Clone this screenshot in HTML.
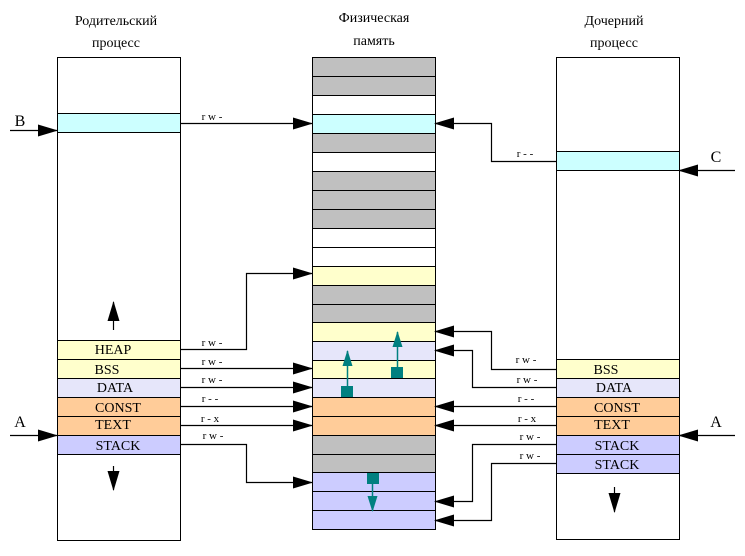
<!DOCTYPE html>
<html><head><meta charset="utf-8"><style>body{margin:0;background:#fff}svg{display:block}</style></head><body>
<svg width="745" height="556" xmlns="http://www.w3.org/2000/svg" font-family="Liberation Serif, serif">
<defs>
<marker id="a" markerWidth="20" markerHeight="12" refX="19" refY="6" orient="auto" markerUnits="userSpaceOnUse"><path d="M0,0 L20,6 L0,12 Z" fill="#000"/></marker>
<marker id="t" markerWidth="16" markerHeight="12" refX="15" refY="6" orient="auto" markerUnits="userSpaceOnUse"><path d="M0,1 L16,6 L0,11 Z" fill="#008080"/></marker>
</defs>
<g font-size="14" text-anchor="middle">
<text x="116" y="25">Родительский</text><text x="116" y="47">процесс</text>
<text x="374" y="22">Физическая</text><text x="374" y="45">память</text>
<text x="614" y="25">Дочерний</text><text x="614" y="47">процесс</text>
</g>
<g stroke="#000" stroke-width="1">
<rect x="312.5" y="57.5" width="123" height="19" fill="#c0c0c0"/>
<rect x="312.5" y="76.5" width="123" height="19" fill="#c0c0c0"/>
<rect x="312.5" y="95.5" width="123" height="19" fill="#fff"/>
<rect x="312.5" y="114.5" width="123" height="19" fill="#ccffff"/>
<rect x="312.5" y="133.5" width="123" height="19" fill="#c0c0c0"/>
<rect x="312.5" y="152.5" width="123" height="19" fill="#fff"/>
<rect x="312.5" y="171.5" width="123" height="19" fill="#c0c0c0"/>
<rect x="312.5" y="190.5" width="123" height="19" fill="#c0c0c0"/>
<rect x="312.5" y="209.5" width="123" height="19" fill="#c0c0c0"/>
<rect x="312.5" y="228.5" width="123" height="19" fill="#fff"/>
<rect x="312.5" y="247.5" width="123" height="19" fill="#fff"/>
<rect x="312.5" y="266.5" width="123" height="19" fill="#ffffcc"/>
<rect x="312.5" y="285.5" width="123" height="19" fill="#c0c0c0"/>
<rect x="312.5" y="304.5" width="123" height="18" fill="#c0c0c0"/>
<rect x="312.5" y="322.5" width="123" height="19" fill="#ffffcc"/>
<rect x="312.5" y="341.5" width="123" height="19" fill="#e6e6fa"/>
<rect x="312.5" y="360.5" width="123" height="18" fill="#ffffcc"/>
<rect x="312.5" y="378.5" width="123" height="19" fill="#e6e6fa"/>
<rect x="312.5" y="397.5" width="123" height="19" fill="#ffcc99"/>
<rect x="312.5" y="416.5" width="123" height="19" fill="#ffcc99"/>
<rect x="312.5" y="435.5" width="123" height="19" fill="#c0c0c0"/>
<rect x="312.5" y="454.5" width="123" height="18" fill="#c0c0c0"/>
<rect x="312.5" y="472.5" width="123" height="19" fill="#ccccff"/>
<rect x="312.5" y="491.5" width="123" height="19" fill="#ccccff"/>
<rect x="312.5" y="510.5" width="123" height="19" fill="#ccccff"/>
<rect x="57.5" y="57.5" width="123" height="483" fill="#fff"/>
<rect x="57.5" y="113.5" width="123" height="19" fill="#ccffff"/>
<rect x="57.5" y="340.5" width="123" height="19" fill="#ffffcc"/>
<rect x="57.5" y="359.5" width="123" height="19" fill="#ffffcc"/>
<rect x="57.5" y="378.5" width="123" height="19" fill="#e6e6fa"/>
<rect x="57.5" y="397.5" width="123" height="19" fill="#ffcc99"/>
<rect x="57.5" y="416.5" width="123" height="19" fill="#ffcc99"/>
<rect x="57.5" y="435.5" width="123" height="19" fill="#ccccff"/>
<rect x="556.5" y="57.5" width="123" height="482" fill="#fff"/>
<rect x="556.5" y="151.5" width="123" height="19" fill="#ccffff"/>
<rect x="556.5" y="359.5" width="123" height="19" fill="#ffffcc"/>
<rect x="556.5" y="378.5" width="123" height="19" fill="#e6e6fa"/>
<rect x="556.5" y="397.5" width="123" height="19" fill="#ffcc99"/>
<rect x="556.5" y="416.5" width="123" height="19" fill="#ffcc99"/>
<rect x="556.5" y="435.5" width="123" height="19" fill="#ccccff"/>
<rect x="556.5" y="454.5" width="123" height="19" fill="#ccccff"/>
</g>
<g font-size="14" text-anchor="middle">
<text x="113" y="354">HEAP</text><text x="107" y="374">BSS</text><text x="115" y="392">DATA</text>
<text x="118" y="412">CONST</text><text x="113" y="429">TEXT</text><text x="118" y="450">STACK</text>
<text x="606" y="374">BSS</text><text x="614" y="392">DATA</text>
<text x="617" y="412">CONST</text><text x="612" y="429">TEXT</text><text x="617" y="450">STACK</text><text x="617" y="469">STACK</text>
<text x="20" y="126" font-size="16">B</text><text x="20" y="427" font-size="16">A</text>
<text x="716" y="162" font-size="16">C</text><text x="716" y="427" font-size="16">A</text>
</g>
<g fill="none" stroke="#000" stroke-width="1.2" marker-end="url(#a)">
<path d="M10,130.5 H57"/><path d="M10,435.5 H57"/>
<path d="M735,170.5 H679"/><path d="M735,435.5 H679"/>
<path d="M180,123.5 H312"/>
<path d="M180,349.5 H246.5 V273.5 H312"/>
<path d="M180,368.5 H312"/><path d="M180,387.5 H312"/>
<path d="M180,406.5 H312"/><path d="M180,425.5 H312"/>
<path d="M180,444.5 H246.5 V482.5 H312"/>
<path d="M556,161.5 H491.5 V123.5 H435"/>
<path d="M556,369.5 H491.5 V331.5 H435"/>
<path d="M556,387.5 H472.5 V350.5 H435"/>
<path d="M556,406.5 H435"/><path d="M556,425.5 H435"/>
<path d="M556,444.5 H472.5 V501.5 H435"/>
<path d="M556,463.5 H491.5 V520.5 H435"/>
<path d="M113.5,330 V302"/><path d="M113.5,466 V490"/><path d="M614.5,487 V512"/>
</g>
<g font-size="11" text-anchor="middle">
<text x="212" y="120">r w -</text><text x="212" y="346">r w -</text><text x="212" y="365">r w -</text>
<text x="212" y="383">r w -</text><text x="210" y="402">r - -</text><text x="210" y="422">r - x</text><text x="213" y="439">r w -</text>
<text x="525" y="157">r - -</text><text x="526" y="363">r w -</text><text x="527" y="383">r w -</text>
<text x="526" y="402">r - -</text><text x="527" y="422">r - x</text><text x="530" y="440">r w -</text><text x="530" y="459">r w -</text>
</g>
<g fill="#008080" stroke="#008080" stroke-width="1.5">
<rect x="341" y="386" width="12" height="11" stroke="none"/><path d="M347.5,386 V351" marker-end="url(#t)"/>
<rect x="391" y="367" width="12" height="11" stroke="none"/><path d="M397.5,367 V332" marker-end="url(#t)"/>
<rect x="367" y="473" width="12" height="11" stroke="none"/><path d="M372.5,484 V511" marker-end="url(#t)"/>
</g>
</svg>
</body></html>
